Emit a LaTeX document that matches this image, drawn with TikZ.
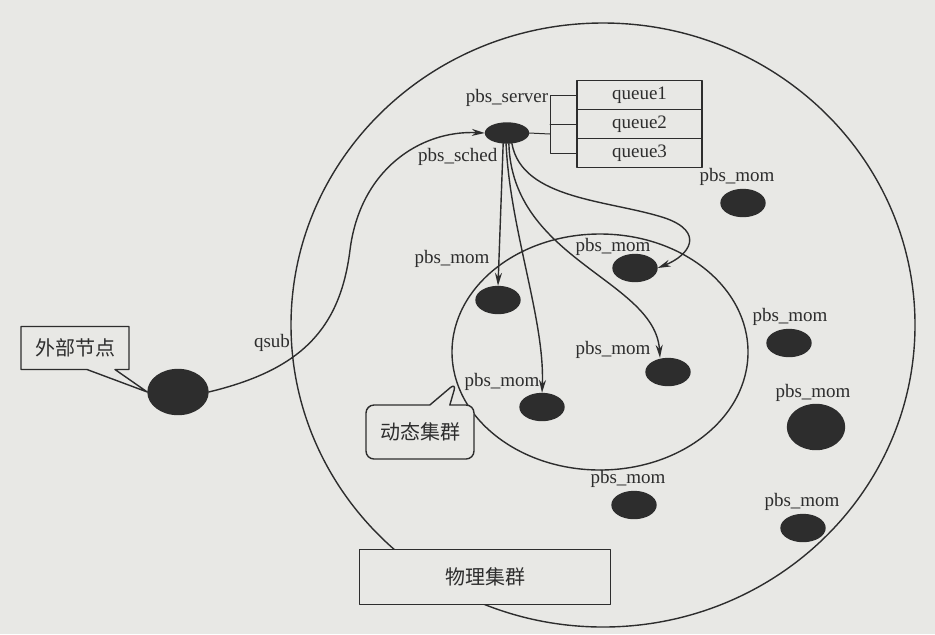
\documentclass[tikz,border=0pt]{standalone}
\usepackage{fontspec}
\setmainfont{Liberation Serif}
\newfontfamily\cjk{Noto Sans CJK SC}
\usetikzlibrary{shapes.geometric,shapes.callouts,arrows.meta}
\definecolor{paper}{RGB}{232,232,229}
\definecolor{ink}{RGB}{45,45,45}
\begin{document}
\begin{tikzpicture}[x=0.5pt,y=-0.5pt,>={Stealth[length=6.5pt,width=3.5pt]},line join=round,line cap=round,
	line width=0.7pt,color=ink,font=\fontsize{9.5}{11}\selectfont,
	mom/.style={ellipse,draw,fill=ink,inner sep=0,minimum width=22pt,minimum height=13.5pt},
	lbl/.style={inner sep=1pt},
	queuebox/.style={draw,rectangle,inner sep=0,outer sep=0,minimum width=62.5pt,minimum height=14.5pt},
	cjkbox/.style={draw,fill=paper,font=\cjk\fontsize{10}{12}\selectfont}]
	\fill[paper] (0,0) rectangle (935,634);
	\useasboundingbox (0,0) rectangle (935,634);
	% clusters
	\node[ellipse,draw,inner sep=0,minimum width=312pt,minimum height=302pt] (phys) at (603,325) {};
	\node[ellipse,draw,inner sep=0,minimum width=148pt,minimum height=118pt] (dyn) at (600,352) {};
	% server and queues
	\node[mom,minimum width=21.5pt,minimum height=10pt] (srv) at (507,133) {};
	\node[lbl] (srvl) at (507,98) {pbs\_server};
	\node[lbl,anchor=east] (sched) at (500,157) {pbs\_sched};
	\node[queuebox] (q1) at (639.5,95) {queue1};
	\node[queuebox] (q2) at (639.5,124) {queue2};
	\node[queuebox] (q3) at (639.5,153) {queue3};
	\coordinate (bus) at (550,134);
	\draw[line width=0.5pt] (srv.east) -- (bus);
	\draw[line width=0.5pt] (q1.west) -| (bus) |- (q3.west);
	\draw[line width=0.5pt] (bus |- q2.west) -- (q2.west);
	% mom nodes
	\foreach \n/\x/\y in {1/743/203, 2/498/300, 3/635/268, 4/789/343, 5/668/372, 6/542/407, 8/634/505, 9/803/528}
	\node[mom] (m\n) at (\x,\y) {};
	\node[mom,minimum width=28.5pt,minimum height=22.5pt] (m7) at (816,427) {};
	\foreach \n/\x/\y in {1/737/177, 2/452/259, 3/613/247, 4/790/317, 5/613/350, 6/502/382, 7/813/393, 8/628/479, 9/802/502}
	\node[lbl] (l\n) at (\x,\y) {pbs\_mom};
	% external node
	\node[mom,minimum width=30pt,minimum height=22.5pt] (ext) at (178,392) {};
	\node[lbl] (qsub) at (272,343) {qsub};
	\draw[->] (ext.east) .. controls (300,370) and (340,330) .. (350,250)
	.. controls (360,170) and (420,130) .. (srv.west);
	% dispatch
	\draw[->] (srv.-110) -- (m2.north);
	\draw[->] (srv.-95) .. controls (510,230) and (545,320) .. (m6.north);
	\draw[->] (srv.-80) .. controls (512,260) and (655,280) .. ([xshift=-4pt]m5.north);
	\draw[->] (srv.-65) .. controls (522,200) and (610,200) .. (665,218)
	.. controls (705,232) and (690,255) .. (m3.east);
	% callouts
	\node[cjkbox,rectangle callout,minimum width=54pt,minimum height=21.5pt,
	callout absolute pointer={(ext.west)},callout pointer width=14pt] (extl) at (75,348) {外部节点};
	\node[cjkbox,rectangle callout,rounded corners=4pt,minimum width=54pt,minimum height=27pt,
	callout absolute pointer={(dyn.192)},callout pointer width=10pt] (dynl) at (420,432) {动态集群};
	\node[cjkbox,minimum width=125.5pt,minimum height=27.5pt] (physl) at (485,577) {物理集群};
\end{tikzpicture}
\end{document}
